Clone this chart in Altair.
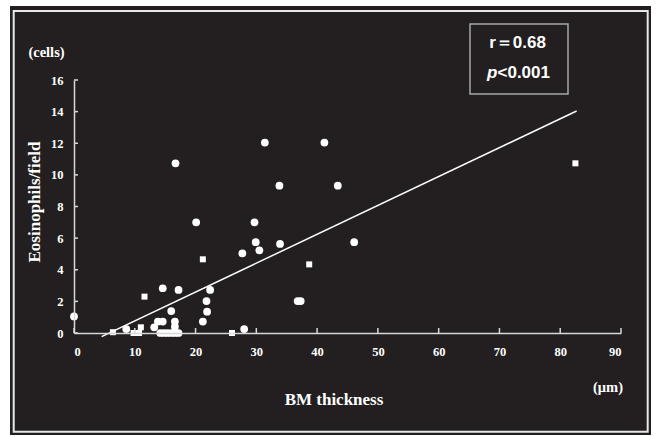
import altair as alt
import pandas as pd

# ---- data ----
round_x = [0.0, 16.7, 20.1, 29.7, 29.9, 30.5, 27.7, 14.6, 17.2, 22.4, 21.8, 21.9, 16.0,
           21.2, 13.8, 14.6, 16.6, 16.6, 13.2, 8.6, 14.2, 14.8, 15.4, 16.0, 16.6, 17.2,
           28.0, 31.4, 41.2, 33.8, 43.4, 33.9, 46.1, 36.8, 37.3]
round_y = [1.05, 10.73, 7.0, 7.0, 5.74, 5.23, 5.04, 2.83, 2.72, 2.72, 2.02, 1.35, 1.39,
           0.72, 0.72, 0.72, 0.72, 0.40, 0.36, 0.25, 0.0, 0.0, 0.0, 0.0, 0.0, 0.0,
           0.25, 12.04, 12.04, 9.32, 9.32, 5.63, 5.74, 2.02, 2.02]
square_x = [6.4, 9.8, 10.7, 11.0, 11.6, 21.2, 26.0, 38.7, 82.5]
square_y = [0.05, 0.0, 0.0, 0.36, 2.30, 4.66, 0.0, 4.34, 10.73]
fit_x = [4.55, 82.7]
fit_y = [-0.23, 14.04]
x_ticks = [0, 10, 20, 30, 40, 50, 60, 70, 80, 90]
y_ticks = [0, 2, 4, 6, 8, 10, 12, 14, 16]

W, H = 547, 253
BG = "#231f20"
SERIF = "Liberation Serif"
SANS = "Liberation Sans"

xs = alt.Scale(domain=[0, 90], nice=False, zero=False)
ys = alt.Scale(domain=[0, 16], nice=False, zero=False)

axis_common = dict(domainColor="#d8d8d8", domainWidth=1.5, ticks=False,
                   labelColor="white", labelFont=SERIF, labelFontWeight="bold",
                   labelFontSize=12.5, title=None, grid=False, zindex=1)
XAX = alt.Axis(values=x_ticks, labelPadding=12, **axis_common)
YAX = alt.Axis(values=y_ticks, labelPadding=11, **axis_common)

one = pd.DataFrame({"a": [0]})

bg = alt.Chart(one).mark_rect(color=BG).encode(
    x=alt.value(10 - 74), x2=alt.value(651 - 74),
    y=alt.value(6 - 80), y2=alt.value(435 - 80))

frame = alt.Chart(one).mark_rect(filled=False, stroke="#e8e8e8", strokeWidth=2).encode(
    x=alt.value(13.7 - 74), x2=alt.value(647.7 - 74),
    y=alt.value(11 - 80), y2=alt.value(431.7 - 80))

df_round = pd.DataFrame({"x": round_x, "y": round_y})
df_square = pd.DataFrame({"x": square_x, "y": square_y})

pts_round = alt.Chart(df_round).mark_point(shape="circle", filled=True, color="white",
                                           opacity=1, size=60).encode(
    x=alt.X("x:Q", scale=xs, axis=XAX), y=alt.Y("y:Q", scale=ys, axis=YAX))

pts_square = alt.Chart(df_square).mark_point(shape="square", filled=True, color="white",
                                             opacity=1, size=36).encode(
    x=alt.X("x:Q", scale=xs, axis=XAX), y=alt.Y("y:Q", scale=ys, axis=YAX))

fit = alt.Chart(pd.DataFrame({"x": fit_x, "y": fit_y})).mark_line(
    color="white", strokeWidth=1.5).encode(
    x=alt.X("x:Q", scale=xs, axis=XAX), y=alt.Y("y:Q", scale=ys, axis=YAX))

xt = alt.Chart(pd.DataFrame({"x": x_ticks})).mark_rule(color="#d8d8d8", strokeWidth=1.5).encode(
    x=alt.X("x:Q", scale=xs, axis=XAX), y=alt.value(H), y2=alt.value(H - 5))
yt = alt.Chart(pd.DataFrame({"y": y_ticks})).mark_rule(color="#d8d8d8", strokeWidth=1.5).encode(
    y=alt.Y("y:Q", scale=ys, axis=YAX), x=alt.value(0), x2=alt.value(4))


def label(text, x, y, size, font=SERIF, angle=0, style="normal", align="center"):
    kw = dict(text=text, font=font, fontSize=size, fontWeight="bold", color="white",
              align=align, baseline="middle", fontStyle=style)
    if angle:
        kw["angle"] = angle
    return alt.Chart(one).mark_text(**kw).encode(x=alt.value(x), y=alt.value(y))


box = alt.Chart(one).mark_rect(filled=False, stroke="#a8a8a8", strokeWidth=1.5).encode(
    x=alt.value(470 - 74), x2=alt.value(568 - 74),
    y=alt.value(24 - 80), y2=alt.value(94 - 80))

texts = [
    label("(cells)", 46.5 - 74, 53 - 80, 14.5),
    label("Eosinophils/field", 35 - 74, 202 - 80, 17, angle=270),
    label("BM thickness", 334 - 74, 400 - 80, 17),
    label("(μm)", 608 - 74, 388 - 80, 14.5),
    label("r＝0.68", 517.5 - 74, 43 - 80, 17, font=SANS),
    label("p", 487 - 74, 73 - 80, 17, font=SANS, style="italic", align="left"),
    label("<0.001", 497.5 - 74, 73 - 80, 17, font=SANS, align="left"),
]

chart = alt.layer(bg, frame, box, fit, pts_round, pts_square, xt, yt, *texts).properties(
    width=W, height=H,
    padding={"left": 74, "top": 80, "right": 661 - 74 - W, "bottom": 437 - 80 - H},
    autosize=alt.AutoSizeParams(type="none"),
    background="white",
).configure_view(stroke=None)

chart.save("out.html", embed_options={"renderer": "svg", "actions": False})
